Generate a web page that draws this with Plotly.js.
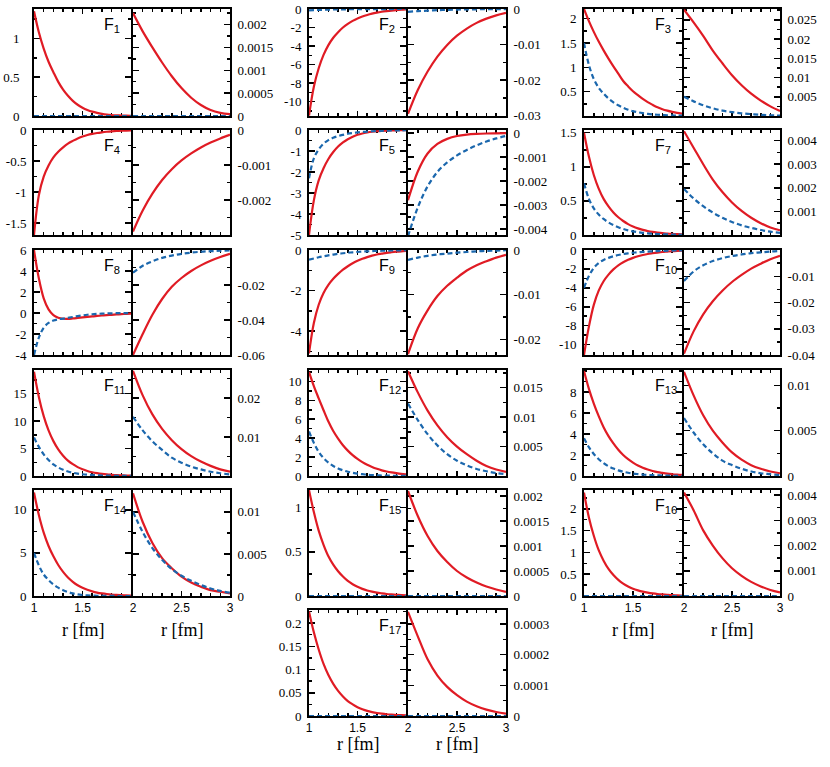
<!DOCTYPE html>
<html>
<head>
<meta charset="utf-8">
<script src="https://cdn.plot.ly/plotly-3.0.1.min.js"></script>
<style>html,body{margin:0;padding:0;background:#fff}</style>
</head>
<body>
<div id="chart" style="width:830px;height:767px"></div>
<script>
// radial grids (fm) for the inner (1-2) and outer (2-3) panels
var rLeft = [1, 1.05, 1.1, 1.15, 1.2, 1.25, 1.3, 1.35, 1.4, 1.45, 1.5, 1.55, 1.6, 1.65, 1.7, 1.75, 1.8, 1.85, 1.9, 1.95, 2.0];
var rRight = [2, 2.1, 2.2, 2.3, 2.4, 2.5, 2.6, 2.7, 2.8, 2.9, 3.0];
var zeroLeft = [0, 0, 0, 0, 0, 0, 0, 0, 0, 0, 0, 0, 0, 0, 0, 0, 0, 0, 0, 0, 0];
var zeroRight = [0, 0, 0, 0, 0, 0, 0, 0, 0, 0, 0];

var f1LeftRed = [1.35, 1.08, 0.87, 0.7, 0.565, 0.44, 0.34, 0.26, 0.195, 0.145, 0.107, 0.078, 0.056, 0.04, 0.028, 0.019, 0.013, 0.009, 0.006, 0.004, 0.0025];
var f1RightRed = [0.00225, 0.00185, 0.0015, 0.00117, 0.00087, 0.00061, 0.0004, 0.00024, 0.00013, 0.00007, 0.00004];

var f2LeftRed = [-11.5, -8.4, -6.4, -4.95, -3.9, -3.1, -2.5, -2.0, -1.6, -1.28, -1.02, -0.81, -0.64, -0.5, -0.39, -0.3, -0.23, -0.17, -0.12, -0.08, -0.05];
var f2LeftBlue = [-0.15, -0.12, -0.1, -0.08, -0.065, -0.053, -0.043, -0.035, -0.028, -0.022, -0.018, -0.014, -0.011, -0.009, -0.007, -0.005, -0.004, -0.003, -0.002, -0.0015, -0.001];
var f2RightRed = [-0.0295, -0.0228, -0.0176, -0.0134, -0.0101, -0.0075, -0.0055, -0.0039, -0.0027, -0.0018, -0.0011];
var f2RightBlue = [-0.0008, -0.0006, -0.00045, -0.00033, -0.00024, -0.00017, -0.00012, -0.00008, -0.00005, -0.00003, -0.00002];

var f3LeftRed = [2.2, 1.95, 1.73, 1.53, 1.35, 1.18, 1.02, 0.87, 0.72, 0.61, 0.51, 0.43, 0.35, 0.285, 0.23, 0.18, 0.14, 0.11, 0.085, 0.065, 0.05];
var f3LeftBlue = [1.5, 1.05, 0.76, 0.58, 0.46, 0.36, 0.28, 0.22, 0.17, 0.13, 0.1, 0.077, 0.059, 0.045, 0.034, 0.026, 0.02, 0.015, 0.011, 0.008, 0.006];
var f3RightRed = [0.0276, 0.0243, 0.0208, 0.017, 0.0137, 0.0106, 0.008, 0.0058, 0.004, 0.0025, 0.0013];
var f3RightBlue = [0.005, 0.0038, 0.0028, 0.002, 0.0014, 0.001, 0.0007, 0.0005, 0.0003, 0.0002, 0.0001];

var f4LeftRed = [-1.69, -1.05, -0.75, -0.57, -0.44, -0.35, -0.28, -0.22, -0.175, -0.135, -0.105, -0.08, -0.062, -0.048, -0.037, -0.028, -0.021, -0.016, -0.012, -0.009, -0.006];
var f4RightRed = [-0.0029, -0.0023, -0.00182, -0.00143, -0.00112, -0.00087, -0.00067, -0.0005, -0.00036, -0.00024, -0.00014];

var f5LeftRed = [-5.0, -3.35, -2.4, -1.82, -1.38, -1.05, -0.79, -0.59, -0.44, -0.32, -0.23, -0.165, -0.12, -0.085, -0.06, -0.042, -0.03, -0.021, -0.015, -0.01, -0.007];
var f5LeftBlue = [-2.3, -1.35, -0.92, -0.65, -0.48, -0.37, -0.29, -0.23, -0.18, -0.145, -0.115, -0.092, -0.074, -0.06, -0.048, -0.039, -0.031, -0.025, -0.02, -0.016, -0.013];
var f5RightRed = [-0.0028, -0.0016, -0.00085, -0.00045, -0.00024, -0.00012, -0.00006, -0.00003, -0.000015, -0.000008, -0.000004];
var f5RightBlue = [-0.0043, -0.0031, -0.00222, -0.00162, -0.00122, -0.00093, -0.0007, -0.00051, -0.00035, -0.00022, -0.00012];

var f7LeftRed = [1.5, 1.15, 0.88, 0.68, 0.53, 0.42, 0.33, 0.26, 0.205, 0.16, 0.125, 0.097, 0.075, 0.058, 0.045, 0.035, 0.027, 0.021, 0.016, 0.012, 0.009];
var f7LeftBlue = [0.76, 0.53, 0.39, 0.3, 0.235, 0.185, 0.145, 0.113, 0.088, 0.068, 0.053, 0.041, 0.032, 0.025, 0.019, 0.015, 0.011, 0.009, 0.007, 0.005, 0.004];
var f7RightRed = [0.0044, 0.0037, 0.003, 0.00235, 0.00182, 0.00138, 0.00102, 0.00073, 0.0005, 0.00032, 0.0002];
var f7RightBlue = [0.00195, 0.00155, 0.00122, 0.00095, 0.00073, 0.00055, 0.00041, 0.0003, 0.00021, 0.00014, 0.00009];

var f8LeftRed = [6.0, 3.3, 1.4, 0.35, -0.2, -0.45, -0.55, -0.56, -0.52, -0.47, -0.42, -0.37, -0.32, -0.28, -0.24, -0.2, -0.17, -0.14, -0.11, -0.08, -0.06];
var f8LeftBlue = [-4.0, -2.35, -1.4, -0.95, -0.72, -0.6, -0.53, -0.46, -0.38, -0.3, -0.23, -0.17, -0.12, -0.085, -0.06, -0.04, -0.03, -0.02, -0.015, -0.01, -0.007];
var f8RightRed = [-0.06, -0.048, -0.037, -0.028, -0.021, -0.016, -0.012, -0.0088, -0.0062, -0.004, -0.0022];
var f8RightBlue = [-0.013, -0.009, -0.0065, -0.0045, -0.0032, -0.0022, -0.0015, -0.001, -0.0007, -0.0004, -0.0002];

var f9LeftRed = [-5.1, -3.6, -2.7, -2.12, -1.72, -1.42, -1.18, -0.97, -0.8, -0.65, -0.53, -0.43, -0.35, -0.28, -0.22, -0.18, -0.14, -0.11, -0.085, -0.065, -0.05];
var f9LeftBlue = [-0.48, -0.42, -0.36, -0.31, -0.265, -0.225, -0.19, -0.16, -0.135, -0.113, -0.095, -0.079, -0.066, -0.055, -0.045, -0.037, -0.03, -0.025, -0.02, -0.016, -0.013];
var f9RightRed = [-0.0233, -0.0175, -0.0135, -0.0103, -0.008, -0.0062, -0.0046, -0.0034, -0.0025, -0.0017, -0.0011];
var f9RightBlue = [-0.0022, -0.0017, -0.0013, -0.001, -0.0008, -0.0006, -0.00045, -0.0003, -0.0002, -0.00012, -0.00006];

var f10LeftRed = [-11.1, -8.1, -5.8, -4.3, -3.3, -2.6, -2.05, -1.62, -1.3, -1.04, -0.83, -0.66, -0.53, -0.42, -0.34, -0.27, -0.21, -0.17, -0.13, -0.1, -0.08];
var f10LeftBlue = [-4.0, -2.75, -1.9, -1.38, -1.05, -0.83, -0.66, -0.53, -0.43, -0.35, -0.29, -0.24, -0.2, -0.165, -0.135, -0.11, -0.09, -0.075, -0.06, -0.05, -0.04];
var f10RightRed = [-0.0395, -0.031, -0.0245, -0.0195, -0.0155, -0.0122, -0.0095, -0.0071, -0.0052, -0.0035, -0.0022];
var f10RightBlue = [-0.0118, -0.0082, -0.0058, -0.0042, -0.0031, -0.0023, -0.0017, -0.0012, -0.0009, -0.0006, -0.0004];

var f11LeftRed = [19.0, 14.4, 10.9, 8.3, 6.35, 4.85, 3.7, 2.8, 2.15, 1.62, 1.22, 0.92, 0.69, 0.52, 0.39, 0.29, 0.22, 0.16, 0.12, 0.09, 0.07];
var f11LeftBlue = [7.0, 5.3, 3.95, 2.9, 2.12, 1.55, 1.13, 0.82, 0.6, 0.44, 0.32, 0.23, 0.17, 0.12, 0.088, 0.064, 0.046, 0.033, 0.024, 0.017, 0.012];
var f11RightRed = [0.027, 0.0207, 0.0158, 0.0121, 0.0092, 0.0069, 0.0051, 0.0037, 0.0026, 0.0017, 0.0011];
var f11RightBlue = [0.0152, 0.0117, 0.0089, 0.0067, 0.0047, 0.0034, 0.0024, 0.0017, 0.0011, 0.0007, 0.0004];

var f12LeftRed = [11.0, 9.5, 8.2, 6.95, 5.75, 4.75, 3.95, 3.25, 2.68, 2.2, 1.8, 1.46, 1.18, 0.95, 0.76, 0.6, 0.48, 0.38, 0.3, 0.23, 0.18];
var f12LeftBlue = [4.7, 3.5, 2.55, 1.9, 1.42, 1.06, 0.8, 0.6, 0.45, 0.34, 0.25, 0.19, 0.14, 0.1, 0.075, 0.055, 0.04, 0.03, 0.022, 0.016, 0.012];
var f12RightRed = [0.0178, 0.0142, 0.0111, 0.0086, 0.0066, 0.005, 0.0037, 0.0026, 0.0017, 0.0011, 0.0007];
var f12RightBlue = [0.0123, 0.0095, 0.0071, 0.0052, 0.0037, 0.0026, 0.0018, 0.0012, 0.0008, 0.0005, 0.0003];

var f13LeftRed = [10.0, 8.3, 6.9, 5.7, 4.65, 3.8, 3.1, 2.5, 2.0, 1.6, 1.28, 1.0, 0.79, 0.62, 0.48, 0.37, 0.29, 0.22, 0.17, 0.13, 0.1];
var f13LeftBlue = [3.6, 2.75, 2.1, 1.6, 1.22, 0.93, 0.71, 0.54, 0.41, 0.31, 0.235, 0.18, 0.135, 0.1, 0.077, 0.058, 0.044, 0.033, 0.025, 0.019, 0.014];
var f13RightRed = [0.0115, 0.0089, 0.0067, 0.005, 0.0037, 0.0026, 0.0018, 0.0012, 0.0008, 0.0005, 0.0003];
var f13RightBlue = [0.0064, 0.0048, 0.0035, 0.0025, 0.0017, 0.0012, 0.0008, 0.0005, 0.0003, 0.0002, 0.0001];

var f14LeftRed = [12.0, 9.4, 7.35, 5.8, 4.6, 3.6, 2.8, 2.15, 1.65, 1.25, 0.95, 0.72, 0.54, 0.4, 0.3, 0.22, 0.16, 0.12, 0.09, 0.065, 0.05];
var f14LeftBlue = [5.0, 3.55, 2.5, 1.85, 1.35, 0.97, 0.68, 0.46, 0.3, 0.19, 0.12, 0.075, 0.045, 0.028, 0.017, 0.01, 0.006, 0.004, 0.002, 0.001, 0];
var f14RightRed = [0.0122, 0.0088, 0.0063, 0.0045, 0.0033, 0.0023, 0.0016, 0.0011, 0.0007, 0.0005, 0.0003];
var f14RightBlue = [0.01, 0.0076, 0.0057, 0.0043, 0.0032, 0.0024, 0.0018, 0.0013, 0.0009, 0.0006, 0.0004];

var f15LeftRed = [1.2, 0.95, 0.74, 0.58, 0.45, 0.355, 0.28, 0.22, 0.17, 0.133, 0.104, 0.081, 0.063, 0.049, 0.038, 0.03, 0.023, 0.018, 0.014, 0.011, 0.008];
var f15RightRed = [0.0021, 0.0016, 0.0012, 0.0009, 0.00068, 0.0005, 0.00037, 0.00027, 0.00019, 0.00013, 0.00008];

var f16LeftRed = [2.37, 1.8, 1.38, 1.05, 0.81, 0.62, 0.48, 0.37, 0.285, 0.22, 0.168, 0.13, 0.1, 0.077, 0.059, 0.045, 0.035, 0.027, 0.02, 0.016, 0.012];
var f16RightRed = [0.0041, 0.0034, 0.0026, 0.002, 0.0015, 0.0011, 0.0008, 0.00056, 0.00038, 0.00024, 0.00014];

var f17LeftRed = [0.225, 0.18, 0.143, 0.112, 0.088, 0.069, 0.054, 0.042, 0.032, 0.025, 0.019, 0.0145, 0.011, 0.0085, 0.0065, 0.005, 0.0038, 0.0029, 0.0022, 0.0017, 0.0013];
var f17RightRed = [0.00034, 0.00026, 0.000185, 0.000132, 0.000095, 0.000068, 0.000047, 0.000032, 0.000021, 0.000013, 0.000008];

// panel setup: grid position, y ranges, labelled ticks, minor tick step
var panels = [
  {n: '1', col: 0, row: 0, pad: 10,
    left: {red: f1LeftRed, blue: zeroLeft, range: [0, 1.38], ticks: [0, 0.5, 1], minor: 0.25},
    right: {red: f1RightRed, blue: zeroRight, range: [0, 0.00234], ticks: [0, 0.0005, 0.001, 0.0015, 0.002], minor: 0.00025}},
  {n: '2', col: 1, row: 0,
    left: {red: f2LeftRed, blue: f2LeftBlue, range: [-11.55, 0], ticks: [0, -2, -4, -6, -8, -10], minor: 1},
    right: {red: f2RightRed, blue: f2RightBlue, range: [-0.0301, 0], ticks: [0, -0.01, -0.02, -0.03], minor: 0.005}},
  {n: '3', col: 2, row: 0,
    left: {red: f3LeftRed, blue: f3LeftBlue, range: [0, 2.2], ticks: [0.5, 1, 1.5, 2], minor: 0.25},
    right: {red: f3RightRed, blue: f3RightBlue, range: [0, 0.0278], ticks: [0.005, 0.01, 0.015, 0.02, 0.025], minor: 0.0025}},
  {n: '4', col: 0, row: 1,
    left: {red: f4LeftRed, blue: null, range: [-1.69, 0], ticks: [0, -0.5, -1, -1.5], minor: 0.25},
    right: {red: f4RightRed, blue: null, range: [-0.003, 0], ticks: [0, -0.001, -0.002], minor: 0.0005}},
  {n: '5', col: 1, row: 1,
    left: {red: f5LeftRed, blue: f5LeftBlue, range: [-5, 0], ticks: [0, -1, -2, -3, -4, -5], minor: 0.5},
    right: {red: f5RightRed, blue: f5RightBlue, range: [-0.00425, 0.00013], ticks: [0, -0.001, -0.002, -0.003, -0.004], minor: 0.0005}},
  {n: '7', col: 2, row: 1,
    left: {red: f7LeftRed, blue: f7LeftBlue, range: [0, 1.54], ticks: [0, 0.5, 1, 1.5], minor: 0.25},
    right: {red: f7RightRed, blue: f7RightBlue, range: [0, 0.00445], ticks: [0.001, 0.002, 0.003, 0.004], minor: 0.0005}},
  {n: '8', col: 0, row: 2,
    left: {red: f8LeftRed, blue: f8LeftBlue, range: [-4, 6], ticks: [6, 4, 2, 0, -2, -4], minor: 1},
    right: {red: f8RightRed, blue: f8RightBlue, range: [-0.06, 0], ticks: [-0.02, -0.04, -0.06], minor: 0.01}},
  {n: '9', col: 1, row: 2,
    left: {red: f9LeftRed, blue: f9LeftBlue, range: [-5.18, 0], ticks: [0, -2, -4], minor: 1},
    right: {red: f9RightRed, blue: f9RightBlue, range: [-0.0235, 0], ticks: [0, -0.01, -0.02], minor: 0.005}},
  {n: '10', col: 2, row: 2,
    left: {red: f10LeftRed, blue: f10LeftBlue, range: [-11.1, 0], ticks: [0, -2, -4, -6, -8, -10], minor: 1},
    right: {red: f10RightRed, blue: f10RightBlue, range: [-0.04, 0], ticks: [-0.01, -0.02, -0.03, -0.04], minor: 0.005}},
  {n: '11', col: 0, row: 3,
    left: {red: f11LeftRed, blue: f11LeftBlue, range: [0, 19.3], ticks: [0, 5, 10, 15], minor: 2.5},
    right: {red: f11RightRed, blue: f11RightBlue, range: [0, 0.0272], ticks: [0.01, 0.02], minor: 0.005}},
  {n: '12', col: 1, row: 3,
    left: {red: f12LeftRed, blue: f12LeftBlue, range: [0, 11.2], ticks: [0, 2, 4, 6, 8, 10], minor: 1},
    right: {red: f12RightRed, blue: f12RightBlue, range: [0, 0.018], ticks: [0.005, 0.01, 0.015], minor: 0.0025}},
  {n: '13', col: 2, row: 3,
    left: {red: f13LeftRed, blue: f13LeftBlue, range: [0, 10.1], ticks: [0, 2, 4, 6, 8], minor: 1},
    right: {red: f13RightRed, blue: f13RightBlue, range: [0, 0.0117], ticks: [0, 0.005, 0.01], minor: 0.0025}},
  {n: '14', col: 0, row: 4, xlabels: 630,
    left: {red: f14LeftRed, blue: f14LeftBlue, range: [0, 12.3], ticks: [0, 5, 10], minor: 2.5},
    right: {red: f14RightRed, blue: f14RightBlue, range: [0, 0.0126], ticks: [0, 0.005, 0.01], minor: 0.0025}},
  {n: '15', col: 1, row: 4,
    left: {red: f15LeftRed, blue: zeroLeft, range: [0, 1.2], ticks: [0, 0.5, 1], minor: 0.25},
    right: {red: f15RightRed, blue: zeroRight, range: [0, 0.00212], ticks: [0, 0.0005, 0.001, 0.0015, 0.002], minor: 0.00025}},
  {n: '16', col: 2, row: 4, xlabels: 630,
    left: {red: f16LeftRed, blue: zeroLeft, range: [0, 2.43], ticks: [0, 0.5, 1, 1.5, 2], minor: 0.25},
    right: {red: f16RightRed, blue: zeroRight, range: [0, 0.0042], ticks: [0, 0.001, 0.002, 0.003, 0.004], minor: 0.0005}},
  {n: '17', col: 1, row: 5, xlabels: 744,
    left: {red: f17LeftRed, blue: zeroLeft, range: [0, 0.228], ticks: [0, 0.05, 0.1, 0.15, 0.2], minor: 0.025},
    right: {red: f17RightRed, blue: zeroRight, range: [0, 0.000346], ticks: [0, 0.0001, 0.0002, 0.0003], minor: 0.00005}}
];

var W = 830, H = 767;
var colX = [[33, 132, 231], [308, 407, 507], [583, 683, 781]];
var rowY = [[8, 117], [129, 236], [249, 356], [369, 477], [489, 597], [609, 717]];
var red = '#e01b24', blue = '#1b67ad';
var serif = 'Liberation Serif, Times New Roman, serif';
var sans = 'Liberation Sans, Arial, sans-serif';

var traces = [];
var layout = {
  width: W, height: H,
  margin: {l: 0, r: 0, t: 0, b: 0},
  showlegend: false,
  paper_bgcolor: '#fff', plot_bgcolor: '#fff',
  annotations: []
};

panels.forEach(function (p, i) {
  ['left', 'right'].forEach(function (side, j) {
    var k = 2 * i + j + 1;
    var s = p[side];
    var xa = k === 1 ? 'x' : 'x' + k;
    var ya = k === 1 ? 'y' : 'y' + k;
    var xs = j === 0 ? rLeft : rRight;

    traces.push({
      x: xs, y: s.red, xaxis: xa, yaxis: ya, type: 'scatter', mode: 'lines',
      line: {color: red, width: 2.2, shape: 'spline', smoothing: 1},
      hoverinfo: 'skip'
    });
    if (s.blue) {
      traces.push({
        x: xs, y: s.blue, xaxis: xa, yaxis: ya, type: 'scatter', mode: 'lines',
        line: {color: blue, width: 2.2, dash: '5px,3px', shape: 'spline', smoothing: 1},
        hoverinfo: 'skip'
      });
    }

    // inset 1px so the 2px frame lines of neighbouring panels coincide
    var x0 = colX[p.col][j] + 1, x1 = colX[p.col][j + 1] - 1;
    var y0 = rowY[p.row][0] + 1, y1 = rowY[p.row][1] - 1;

    layout[k === 1 ? 'xaxis' : 'xaxis' + k] = {
      domain: [x0 / W, x1 / W], anchor: ya,
      range: j === 0 ? [1, 2] : [2, 3],
      tickmode: 'array',
      tickvals: j === 0 ? [1, 1.5, 2] : [2, 2.5, 3],
      ticktext: j === 0 ? ['1', '1.5', ''] : ['2', '2.5', '3'],
      showticklabels: !!p.xlabels,
      ticks: 'inside', ticklen: 5, tickwidth: 1.5, tickcolor: '#000',
      minor: {ticks: 'inside', tick0: 0, dtick: 0.1, ticklen: 3, tickwidth: 1.5, tickcolor: '#000'},
      showline: true, linecolor: '#000', linewidth: 2, mirror: 'ticks',
      showgrid: false, zeroline: false, fixedrange: true,
      tickfont: {family: sans, size: 12, color: '#000'},
      layer: 'below traces'
    };

    layout[k === 1 ? 'yaxis' : 'yaxis' + k] = {
      domain: [1 - y1 / H, 1 - y0 / H], anchor: xa,
      side: j === 0 ? 'left' : 'right',
      range: s.range,
      tickmode: 'array', tickvals: s.ticks, ticktext: s.ticks.map(String),
      ticks: 'inside', ticklen: 6, tickwidth: 1.5, tickcolor: '#000',
      minor: {ticks: 'inside', tick0: 0, dtick: s.minor, ticklen: 3, tickwidth: 1.5, tickcolor: '#000'},
      showline: true, linecolor: '#000', linewidth: 2, mirror: 'ticks',
      showgrid: false, zeroline: false, fixedrange: true,
      ticklabelstandoff: j === 0 ? (p.pad || 3) : 3,
      tickfont: {family: serif, size: 13, color: '#000'},
      layer: 'below traces'
    };

    if (p.xlabels) {
      layout.annotations.push({
        xref: 'paper', yref: 'paper',
        x: (colX[p.col][j] + colX[p.col][j + 1]) / 2 / W, y: 1 - p.xlabels / H,
        xanchor: 'center', yanchor: 'middle', showarrow: false,
        text: 'r [fm]', font: {family: serif, size: 18, color: '#000'}
      });
    }
  });

  layout.annotations.push({
    xref: 'paper', yref: 'paper',
    x: (colX[p.col][1] - 30) / W, y: 1 - (rowY[p.row][0] + 6) / H,
    xanchor: 'left', yanchor: 'top', showarrow: false,
    text: 'F<sub>' + p.n + '</sub>', font: {family: sans, size: 16, color: '#000'}
  });
});

Plotly.newPlot('chart', traces, layout, {staticPlot: true, displayModeBar: false});
</script>
</body>
</html>
